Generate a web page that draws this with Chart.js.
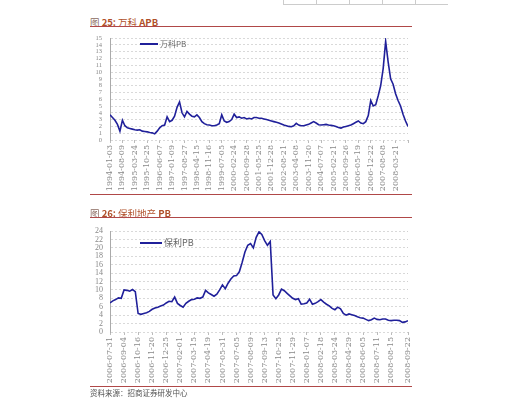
<!DOCTYPE html>
<html>
<head>
<meta charset="utf-8">
<script src="https://cdn.jsdelivr.net/npm/chart.js@4.4.1/dist/chart.umd.min.js"></script>
<style>
  html, body { margin: 0; padding: 0; background: #fff; }
  body { width: 514px; height: 411px; position: relative; overflow: hidden; font-family: "Noto Sans CJK SC", sans-serif; }
  .title { position: absolute; left: 90px; font-size: 9.5px; line-height: 12px; color: #b0502a; white-space: nowrap; }
  .title .fig { color: #8a6a60; }
  .rule { position: absolute; left: 90px; width: 322px; height: 0; border-top: 1.5px solid #b04848; }
  canvas { position: absolute; left: 90px; }
  .src { position: absolute; left: 90px; top: 388px; font-size: 7.5px; line-height: 10px; color: #555; }
  .tbl { position: absolute; top: -1px; left: 283px; height: 5px; border-bottom: 1px solid #ccc; display: flex; }
  .tbl div { width: 32px; border-left: 1px solid #ccc; }
</style>
</head>
<body>
<div class="tbl"><div></div><div></div><div></div><div></div><div></div></div>

<div class="title" style="top:16px"><span class="fig">图</span> <b>25:</b> 万科 <b>APB</b></div>
<div class="rule" style="top:26px"></div>
<canvas id="chart-vanke" width="325" height="162" style="top:33px"></canvas>
<div class="rule" style="top:194px"></div>

<div class="title" style="top:207px"><span class="fig">图</span> <b>26:</b> 保利地产 <b>PB</b></div>
<div class="rule" style="top:217px"></div>
<canvas id="chart-poly" width="325" height="158" style="top:226px"></canvas>
<div class="rule" style="top:386px"></div>
<div class="src">资料来源：招商证券研发中心</div>

<script>
// points per label interval on the x axis
const STEP = 5;

const vankeDates = ['1994-01-03','1994-08-09','1995-03-24','1995-10-25','1996-06-07','1997-01-09',
  '1997-08-27','1998-04-15','1998-11-16','1999-07-05','2000-02-24','2000-09-28','2001-05-25',
  '2001-12-28','2002-08-21','2003-04-08','2003-11-20','2004-07-07','2005-02-21','2005-09-26',
  '2006-05-19','2006-12-22','2007-08-08','2008-03-21'];

const vankePB = [
  3.7, 3.3, 2.9, 2.3, 1.3, 2.9, 2.1, 1.8, 1.7, 1.6,
  1.5, 1.45, 1.5, 1.3, 1.25, 1.2, 1.1, 1.05, 0.9, 1.3,
  1.8, 2.1, 2.2, 3.4, 2.7, 2.9, 3.5, 4.8, 5.6, 4.0,
  3.4, 4.2, 3.8, 3.5, 3.4, 3.7, 3.3, 2.7, 2.4, 2.25,
  2.2, 2.1, 2.1, 2.2, 2.4, 3.7, 2.8, 2.6, 2.7, 3.0,
  3.8, 3.3, 3.4, 3.2, 3.3, 3.1, 3.2, 3.1, 3.3, 3.3,
  3.2, 3.2, 3.1, 3.0, 2.9, 2.8, 2.7, 2.6, 2.5, 2.35,
  2.2, 2.1, 2.0, 1.95, 2.1, 2.45, 2.2, 2.1, 2.1, 2.2,
  2.3, 2.5, 2.7, 2.5, 2.25, 2.2, 2.25, 2.3, 2.2, 2.15,
  2.1, 2.0, 1.85, 1.75, 1.9, 2.0, 2.1, 2.2, 2.4, 2.6,
  2.8, 2.5, 2.4, 2.7, 3.6, 5.8, 5.0, 5.2, 6.5, 8.0,
  10.5, 14.5, 11.5, 9.0, 8.2, 6.8, 5.8, 5.0, 3.8, 2.8,
  2.0
];

const polyDates = ['2006-07-31','2006-09-04','2006-10-16','2006-11-20','2006-12-25','2007-02-01',
  '2007-03-15','2007-04-19','2007-05-31','2007-07-05','2007-08-09','2007-09-13','2007-10-25',
  '2007-11-29','2008-01-07','2008-02-18','2008-03-24','2008-04-29','2008-06-05','2008-07-11',
  '2008-08-15','2008-09-22'];

const polyPB = [
  6.9, 7.4, 7.7, 8.1, 8.0, 10.0, 9.9, 9.7, 10.1, 9.6,
  4.4, 4.2, 4.4, 4.6, 4.9, 5.4, 5.7, 5.9, 6.2, 6.4,
  6.9, 7.3, 7.2, 8.3, 6.8, 6.3, 5.9, 6.8, 7.3, 7.7,
  7.8, 8.1, 8.0, 8.3, 9.9, 9.3, 8.9, 8.5, 9.0, 10.0,
  11.2, 10.3, 11.6, 12.6, 13.3, 13.4, 14.3, 16.5, 19.0, 20.6,
  21.0, 20.0, 22.5, 23.8, 23.2, 21.7, 20.6, 21.5, 8.8, 7.9,
  8.8, 10.2, 9.8, 9.2, 8.6, 8.0, 7.7, 7.9, 6.6, 6.7,
  6.9, 7.8, 6.6, 6.8, 7.2, 7.7, 7.1, 6.6, 6.2, 5.6,
  5.3, 5.9, 5.5, 4.4, 4.0, 4.3, 4.1, 3.9, 3.6, 3.4,
  3.3, 3.0, 2.7, 2.9, 3.3, 3.0, 2.9, 3.1, 3.1, 2.8,
  2.7, 2.8, 2.8, 2.7, 2.3, 2.4, 2.7
];

// legend drawn inside the plot, like the original
function inLegend(dx, dy, len, fontSize) {
  return {
    id: 'inLegend',
    afterDatasetsDraw(chart) {
      const {ctx, chartArea} = chart;
      const ds = chart.data.datasets[0];
      const x = chartArea.left + dx, y = chartArea.top + dy;
      ctx.save();
      ctx.strokeStyle = ds.borderColor;
      ctx.lineWidth = 2;
      ctx.beginPath();
      ctx.moveTo(x, y);
      ctx.lineTo(x + len, y);
      ctx.stroke();
      ctx.fillStyle = '#666';
      ctx.font = fontSize + 'px "Noto Sans CJK SC"';
      ctx.textBaseline = 'middle';
      ctx.fillText(ds.label, x + len + 2, y);
      ctx.restore();
    }
  };
}

function renderChart(id, label, dates, values, yMax, yStep, yFont, yPad, xHeight, legend) {
  const ctx = document.getElementById(id).getContext('2d');
  const points = values.map((v, i) => ({x: i, y: v}));

  return new Chart(ctx, {
    type: 'line',
    data: {
      datasets: [{
        label: label,
        data: points,
        borderColor: '#20209a',
        borderWidth: 1.6,
        pointRadius: 0,
        tension: 0,
        fill: false
      }]
    },
    options: {
      responsive: false,
      animation: false,
      layout: { padding: { top: 5, right: 7, left: 0, bottom: 0 } },
      plugins: { legend: { display: false }, tooltip: { enabled: false } },
      scales: {
        x: {
          type: 'linear',
          min: 0,
          max: values.length - 1,
          grid: { drawOnChartArea: false, tickLength: 3, color: '#bbb' },
          border: { display: false },
          ticks: {
            stepSize: STEP,
            autoSkip: false,
            maxRotation: 90,
            minRotation: 90,
            padding: 2,
            color: '#888',
            font: { family: '"DejaVu Serif"', size: 8 },
            callback: v => dates[Math.round(v / STEP)] || ''
          },
          afterFit: s => {
            s.height = xHeight;
            s.paddingLeft = 0;
            s.paddingRight = 0;
          }
        },
        y: {
          min: 0,
          max: yMax,
          grid: { color: '#d0d0d0', lineWidth: 0.8, drawTicks: false },
          border: { display: true, color: '#aaa', dash: [2, 2] },
          ticks: {
            stepSize: yStep,
            autoSkip: false,
            padding: yPad,
            color: '#888',
            font: { family: '"Liberation Serif"', size: yFont, lineHeight: 1 }
          },
          afterFit: s => {
            s.width = 20;
            s.paddingTop = 0;
            s.paddingBottom = 0;
          }
        }
      }
    },
    plugins: [legend]
  });
}

renderChart('chart-vanke', '万科PB', vankeDates, vankePB, 15, 1, 6.5, 8, 55, inLegend(30, 6, 18, 8));
renderChart('chart-poly', '保利PB', polyDates, polyPB, 24, 2, 8, 7, 52, inLegend(30, 12, 22, 9));
</script>
</body>
</html>
